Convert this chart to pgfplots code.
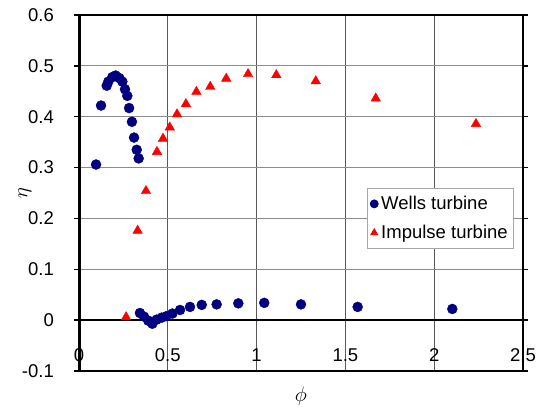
\documentclass[border=0pt]{standalone}
\usepackage{fontspec}
\setmainfont{Liberation Sans}
\usepackage{pgfplots}
\pgfplotsset{compat=1.18}
\definecolor{wells}{RGB}{0,0,128}
\definecolor{impulse}{RGB}{255,0,0}

\begin{document}
\begin{tikzpicture}
\begin{axis}[
    scale only axis,
    width=444pt, height=356pt,
    xmin=0, xmax=2.5,
    ymin=-0.1, ymax=0.6,
    clip=false,
    font=\fontsize{18.5}{22}\selectfont,
    /pgf/number format/assume math mode=true,
    xtick={0,0.5,1,1.5,2,2.5},
    xticklabels={0,0.5,1,1.5,2,2.5},
    ytick={-0.1,0,0.1,0.2,0.3,0.4,0.5,0.6},
    yticklabels={-0.1,0,0.1,0.2,0.3,0.4,0.5,0.6},
    xticklabel style={anchor=center, inner sep=0pt, yshift=21pt},
    yticklabel style={anchor=east, inner sep=0pt, xshift=-20pt},
    xtick style={draw=none},
    ytick style={black, line width=1.5pt},
    tick align=outside,
    major tick length=5pt,
    grid=major,
    x grid style={black!65, line width=0.9pt},
    y grid style={black!45, line width=0.8pt},
    axis line style={black, line width=1.6pt},
    legend style={at={(rel axis cs:0.98,0.514)}, anchor=north east,
        draw=black!35, line width=0.8pt, fill=white,
        font=\fontsize{18.5}{22}\selectfont,
        row sep=10pt, inner xsep=3pt, inner ysep=6pt,
        nodes={inner xsep=3pt}},
    legend cell align=left,
    legend image code/.code={
        \draw[mark repeat=2, mark phase=2, #1, mark size=4pt]
        plot coordinates {(0pt,0pt)(9pt,0pt)(18pt,0pt)};},
]
\draw[black, line width=2.6pt] (axis cs:0,0) -- (axis cs:2.5,0);
\draw[black, line width=3pt] (rel axis cs:0,0) -- (rel axis cs:0,1);

\addplot[only marks, mark=*, mark size=5pt, color=wells, mark options={fill=wells, draw=wells}]
coordinates {
(0.096,0.306)(0.124,0.422)(0.156,0.461)(0.165,0.469)(0.188,0.478)
(0.206,0.481)(0.227,0.476)(0.244,0.469)(0.259,0.454)(0.272,0.441)
(0.282,0.417)(0.298,0.390)(0.310,0.359)(0.325,0.335)(0.336,0.318)
(0.343,0.014)(0.366,0.007)(0.390,-0.001)(0.413,-0.007)(0.437,0.001)
(0.466,0.005)(0.494,0.008)(0.526,0.013)(0.569,0.020)(0.625,0.026)
(0.691,0.030)(0.775,0.031)(0.897,0.033)(1.043,0.034)(1.250,0.031)
(1.569,0.026)(2.102,0.022)
};
\addlegendentry{Wells turbine}

\addplot[only marks, mark=triangle*, mark size=5.5pt, color=impulse, mark options={fill=impulse, draw=impulse}]
coordinates {
(0.265,0.006)(0.330,0.176)(0.377,0.254)(0.439,0.331)(0.473,0.357)
(0.511,0.379)(0.552,0.405)(0.602,0.425)(0.661,0.449)(0.739,0.459)
(0.829,0.475)(0.952,0.484)(1.111,0.482)(1.333,0.470)(1.671,0.436)
(2.235,0.386)
};
\addlegendentry{Impulse turbine}

\node[font=\fontsize{22}{26}\selectfont] at ([yshift=-25pt]rel axis cs:0.5,0) {$\phi$};
\node[rotate=90, font=\fontsize{22}{26}\selectfont] at ([xshift=-54pt]rel axis cs:0,0.5) {$\eta$};
\end{axis}
\path (current axis.south west) ++(-79pt,-35pt) coordinate (bbA);
\path (current axis.north east) ++(21pt,15pt) coordinate (bbB);
\path[use as bounding box] (bbA) rectangle (bbB);
\end{tikzpicture}
\end{document}
